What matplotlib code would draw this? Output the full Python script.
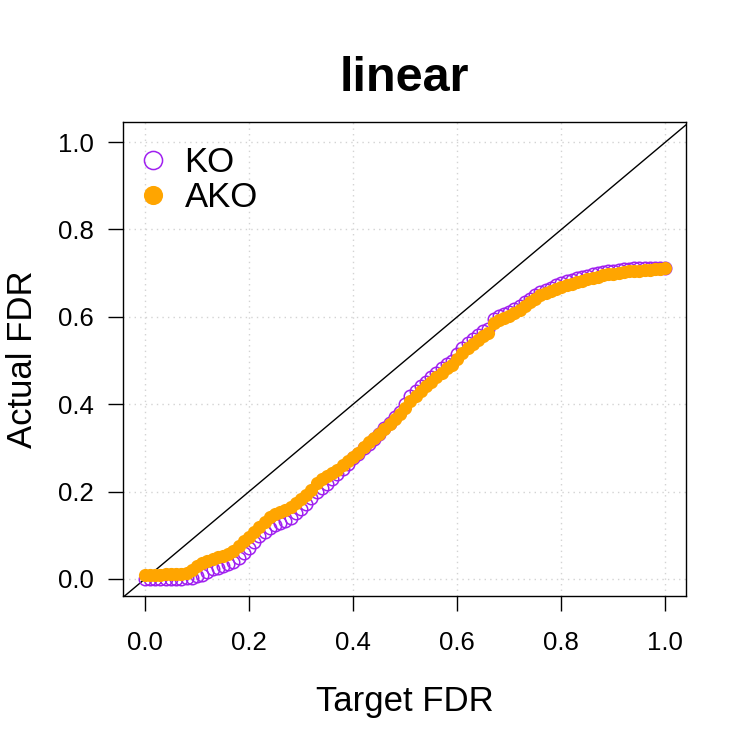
import numpy as np
import matplotlib.pyplot as plt

plt.rcParams['font.family'] = ['Liberation Sans', 'DejaVu Sans']

# target FDR levels (0, 0.01, ..., 1)
target = np.linspace(0, 1, 101)

ko_fdr = [0.000, 0.000, 0.000, 0.000, 0.000, 0.001, 0.001, 0.001, 0.002, 0.003,
          0.006, 0.010, 0.016, 0.022, 0.026, 0.030, 0.034, 0.040, 0.048, 0.060,
          0.072, 0.085, 0.098, 0.108, 0.116, 0.124, 0.128, 0.133, 0.140, 0.150,
          0.160, 0.172, 0.186, 0.198, 0.208, 0.218, 0.230, 0.240, 0.252, 0.264,
          0.276, 0.287, 0.300, 0.310, 0.320, 0.332, 0.346, 0.358, 0.370, 0.383,
          0.400, 0.418, 0.430, 0.441, 0.451, 0.462, 0.472, 0.482, 0.492, 0.500,
          0.515, 0.528, 0.540, 0.550, 0.559, 0.567, 0.573, 0.596, 0.601, 0.607,
          0.612, 0.618, 0.625, 0.633, 0.642, 0.651, 0.657, 0.662, 0.667, 0.672,
          0.677, 0.681, 0.684, 0.688, 0.691, 0.694, 0.697, 0.700, 0.702, 0.704,
          0.706, 0.707, 0.709, 0.710, 0.711, 0.711, 0.712, 0.712, 0.712, 0.712,
          0.712]

ako_fdr = [0.010, 0.010, 0.010, 0.010, 0.011, 0.011, 0.012, 0.012, 0.013, 0.020,
           0.030, 0.037, 0.042, 0.046, 0.050, 0.053, 0.058, 0.064, 0.075, 0.088,
           0.097, 0.107, 0.118, 0.130, 0.142, 0.148, 0.153, 0.158, 0.165, 0.174,
           0.183, 0.193, 0.203, 0.220, 0.228, 0.235, 0.242, 0.250, 0.260, 0.270,
           0.280, 0.289, 0.303, 0.313, 0.323, 0.333, 0.343, 0.354, 0.366, 0.378,
           0.392, 0.408, 0.420, 0.430, 0.441, 0.452, 0.462, 0.472, 0.482, 0.490,
           0.503, 0.517, 0.528, 0.538, 0.548, 0.556, 0.563, 0.586, 0.592, 0.597,
           0.602, 0.608, 0.615, 0.624, 0.633, 0.641, 0.649, 0.654, 0.659, 0.664,
           0.668, 0.672, 0.676, 0.680, 0.683, 0.686, 0.689, 0.692, 0.695, 0.697,
           0.699, 0.701, 0.703, 0.704, 0.705, 0.706, 0.707, 0.708, 0.709, 0.710,
           0.711]

ticks = [0.0, 0.2, 0.4, 0.6, 0.8, 1.0]
tick_labels = ['0.0', '0.2', '0.4', '0.6', '0.8', '1.0']

fig = plt.figure(figsize=(7.5, 7.5), dpi=100)
ax = fig.add_axes([0.164, 0.2053, 0.751, 0.632])

ax.set_xlim(-0.042, 1.04)
ax.set_ylim(-0.039, 1.046)

for t in ticks:
    ax.axvline(t, color='lightgray', ls=(0, (1, 3)), lw=1, zorder=0)
    ax.axhline(t, color='lightgray', ls=(0, (1, 3)), lw=1, zorder=0)

ax.plot([-0.1, 1.1], [-0.1, 1.1], color='black', lw=1, zorder=1)

ax.plot(target, ko_fdr, 'o', mfc='none', mec='#A020F0', mew=1.1, ms=9,
        label='KO', zorder=2)
ax.plot(target, ako_fdr, 'o', color='#FFA500', ms=9.5, mew=0,
        label='AKO', zorder=3)

ax.set_xticks(ticks)
ax.set_xticklabels(tick_labels)
ax.set_yticks(ticks)
ax.set_yticklabels(tick_labels)
ax.tick_params(direction='out', length=11, width=1, labelsize=18.5, pad=10)
ax.tick_params(axis='x', pad=14)
for s in ax.spines.values():
    s.set_linewidth(1)

ax.set_xlabel('Target FDR', fontsize=25, labelpad=22)
ax.set_ylabel('Actual FDR', fontsize=25, labelpad=14)
ax.set_title('linear', fontsize=35, fontweight='bold', pad=22)

ax.legend(loc='upper left', bbox_to_anchor=(-0.014, 1.0), frameon=False,
          fontsize=25, markerscale=1.45, handlelength=0.8, handletextpad=0.5,
          labelspacing=0.05, borderaxespad=0.4, borderpad=0.3)

fig.savefig('out.png', dpi=100)
